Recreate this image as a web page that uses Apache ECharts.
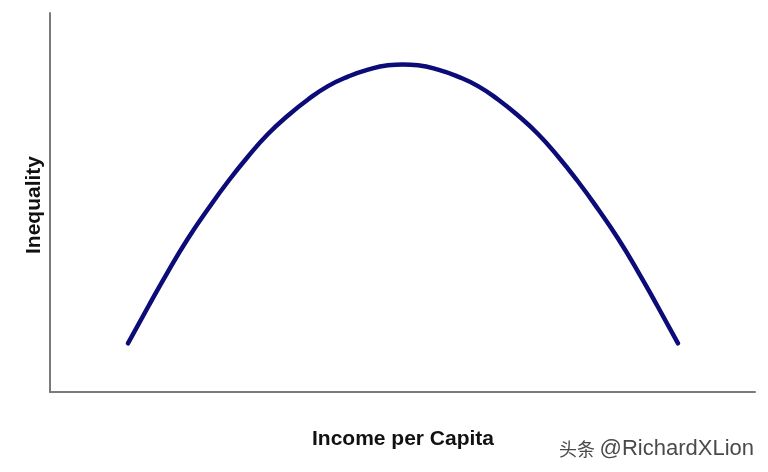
<!DOCTYPE html>
<html>
<head>
<meta charset="utf-8">
<script src="https://cdn.jsdelivr.net/npm/echarts@6/dist/echarts.min.js"></script>
<style>html,body{margin:0;padding:0;background:#fff;}#c{width:768px;height:472px;}</style>
</head>
<body>
<div id="c"></div>
<script>
var incomeX = [11.06, 13.90, 16.74, 19.57, 22.41, 25.25, 28.09, 30.92, 33.76, 36.60, 39.43, 42.27, 45.11, 47.94, 50.07, 52.20, 55.04, 57.87, 60.71, 63.55, 66.38, 69.22, 72.06, 74.89, 77.73, 80.57, 83.40, 86.24, 89.08];
var inequalityY = [12.85, 22.43, 31.79, 40.50, 48.28, 55.54, 62.14, 68.07, 72.96, 77.18, 80.71, 83.22, 85.07, 86.20, 86.41, 86.20, 85.07, 83.22, 80.71, 77.18, 72.96, 68.07, 62.14, 55.54, 48.28, 40.50, 31.79, 22.43, 12.85];
var xTitle = 'Income per Capita';
var yTitle = 'Inequality';
var watermarkCJK = '头条';
var watermarkName = '@RichardXLion';

var pts = incomeX.map(function (x, i) { return [x, inequalityY[i]]; });
var chart = echarts.init(document.getElementById('c'), null, {renderer: 'canvas'});
chart.setOption({
  animation: false,
  backgroundColor: '#ffffff',
  grid: {left: 50, right: 13, top: 13, bottom: 80, containLabel: false},
  xAxis: {
    type: 'value', min: 0, max: 100,
    axisLine: {show: true, onZero: false, lineStyle: {color: '#7a7a7a', width: 2}},
    axisTick: {show: false}, axisLabel: {show: false}, splitLine: {show: false}
  },
  yAxis: {
    type: 'value', min: 0, max: 100,
    axisLine: {show: true, onZero: false, lineStyle: {color: '#7a7a7a', width: 2}},
    axisTick: {show: false}, axisLabel: {show: false}, splitLine: {show: false}
  },
  series: [{
    type: 'line', data: pts, smooth: 0.5, showSymbol: false,
    lineStyle: {color: '#0c0c78', width: 4.5, cap: 'round'}
  }],
  graphic: [
    {type: 'text', x: 403, y: 439, style: {text: xTitle, font: 'bold 21px "Liberation Sans", Arial, sans-serif', fill: '#111', align: 'center', verticalAlign: 'middle'}},
    {type: 'text', x: 34, y: 205, rotation: Math.PI / 2, style: {text: yTitle, font: 'bold 21px "Liberation Sans", Arial, sans-serif', fill: '#111', align: 'center', verticalAlign: 'middle'}},
    {type: 'text', x: 559, y: 449, style: {text: watermarkCJK, font: '18px "Noto Sans CJK SC", sans-serif', fill: '#4a4a4a', align: 'left', verticalAlign: 'middle'}},
    {type: 'text', x: 754, y: 449, style: {text: watermarkName, font: '22px "Liberation Sans", Arial, sans-serif', fill: '#4a4a4a', align: 'right', verticalAlign: 'middle'}}
  ]
});
</script>
</body>
</html>
